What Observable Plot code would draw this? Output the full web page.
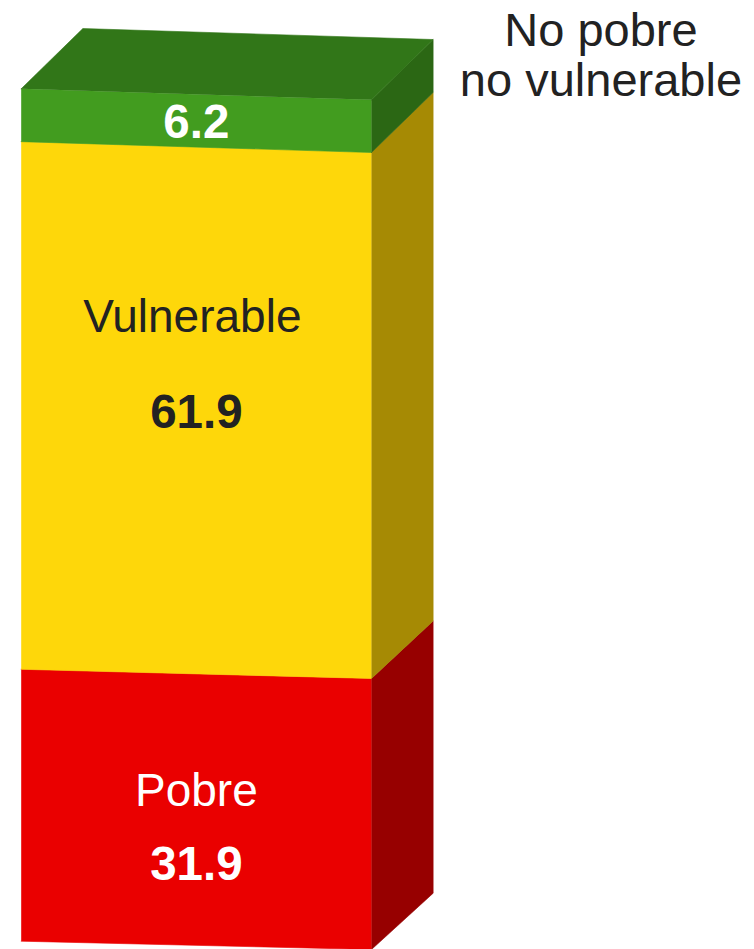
<!DOCTYPE html>
<html>
<head>
<meta charset="utf-8">
<script src="https://cdn.jsdelivr.net/npm/d3@7"></script>
<script src="https://cdn.jsdelivr.net/npm/@observablehq/plot@0.6"></script>
<style>
  html, body { margin: 0; padding: 0; background: #fff; }
  svg { display: block; font-family: "Liberation Sans", Arial, sans-serif; }
</style>
</head>
<body>
<div id="chart"></div>
<script>
// ---- data (bottom to top) ----
const categories = ["Pobre", "Vulnerable", "No pobre\nno vulnerable"];
const values = [31.9, 61.9, 6.2];

// ---- styles ----
const frontColors = ["#EA0000", "#FED70A", "#429C1F"];
const sideColors = ["#970000", "#A68A04", "#2B6714"];
const topColor = "#317618";
const nameColors = ["#ffffff", "#222222", "#222222"];
const valueColors = ["#ffffff", "#222222", "#ffffff"];
const nameDy = [-18, -93, null];   // px offsets; null -> name drawn outside the bar
const nameDx = [0, -4, 0];
const valueDy = [55, 2, 2];

// layout
const W = 754, H = 949, mTop = 88.3, mBottom = 8.3, mLeft = 20.7, mRight = 383;

// 3D projection parameters (in scale units)
const depthX = 0.176;                       // depth as fraction of bar width
const frontRight = v => v * 0.9968 - 0.974; // slight perspective tilt of front face
const backRight = v => v * 1.0015 + 5.63;   // back edge of the side face
const topBackLeft = 107.07;

// ---- build faces from the data ----
const faces = [];
let acc = 0;
const segs = values.map((v, i) => {
  const s = {i, y0: acc, y1: acc + v, value: v, name: categories[i]};
  acc += v;
  return s;
});
const total = acc;
const pxPerUnitY = (H - mTop - mBottom) / total;
const pxPerUnitX = (W - mLeft - mRight);

segs.forEach(s => {
  const f = `front${s.i}`, sd = `side${s.i}`;
  [[0, s.y0], [1, frontRight(s.y0)], [1, frontRight(s.y1)], [0, s.y1]]
    .forEach(([x, y]) => faces.push({face: f, x, y, color: frontColors[s.i]}));
  [[1, frontRight(s.y0)], [1 + depthX, backRight(s.y0)], [1 + depthX, backRight(s.y1)], [1, frontRight(s.y1)]]
    .forEach(([x, y]) => faces.push({face: sd, x, y, color: sideColors[s.i]}));
});
[[0, total], [depthX, topBackLeft], [1 + depthX, backRight(total)], [1, frontRight(total)]]
  .forEach(([x, y]) => faces.push({face: "top", x, y, color: topColor}));

// labels (offsets converted from px to scale units)
const valueLabels = [], nameLabels = [];
segs.forEach(s => {
  const mid = (s.y0 + s.y1) / 2;
  const yMid = mid + (frontRight(mid) - mid) / 2;
  valueLabels.push({x: 0.5, y: yMid - valueDy[s.i] / pxPerUnitY, text: s.value.toFixed(1), color: valueColors[s.i]});
  if (nameDy[s.i] !== null) {
    nameLabels.push({x: 0.5 + nameDx[s.i] / pxPerUnitX, y: yMid - nameDy[s.i] / pxPerUnitY, text: s.name, color: nameColors[s.i]});
  }
});
const outside = segs[segs.length - 1];

const chart = Plot.plot({
  width: W,
  height: H,
  marginLeft: mLeft,
  marginRight: mRight,
  marginTop: mTop,
  marginBottom: mBottom,
  x: {domain: [0, 1], axis: null},
  y: {domain: [0, total], axis: null},
  style: {fontFamily: '"Liberation Sans", Arial, sans-serif', background: "#fff"},
  marks: [
    Plot.line(faces, {x: "x", y: "y", z: "face", fill: "color", stroke: "color", strokeWidth: 0.6, curve: "linear"}),
    Plot.text(valueLabels, {
      x: "x", y: "y", text: "text", fill: "color",
      fontSize: 47.5, fontWeight: "bold", lineAnchor: "middle", textAnchor: "middle"
    }),
    Plot.text(nameLabels, {
      x: "x", y: "y", text: "text", fill: "color",
      fontSize: 46, fontWeight: "normal", lineAnchor: "middle", textAnchor: "middle"
    }),
    Plot.text([outside], {
      x: () => 1.655, y: d => d.y1, text: "name", dy: -34,
      fill: "#222222", fontSize: 47, lineHeight: 1.06, lineAnchor: "middle", textAnchor: "middle"
    })
  ]
});
document.getElementById("chart").appendChild(chart);
</script>
</body>
</html>
